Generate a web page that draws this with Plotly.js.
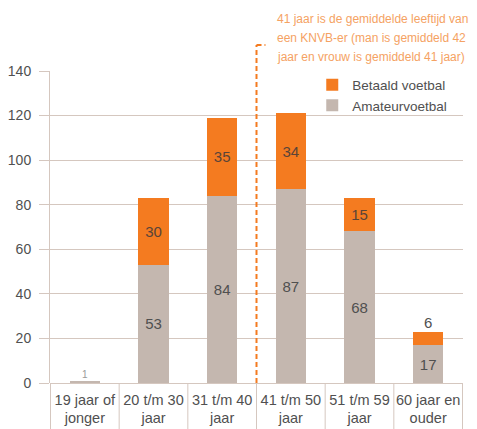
<!DOCTYPE html>
<html>
<head>
<meta charset="utf-8">
<script src="https://cdn.plot.ly/plotly-3.0.1.min.js"></script>
<style>html,body{margin:0;padding:0;background:#fff;}#chart{width:477px;height:429px;}</style>
</head>
<body>
<div id="chart"></div>
<script>
const categories = ["19 jaar of<br>jonger","20 t/m 30<br>jaar","31 t/m 40<br>jaar","41 t/m 50<br>jaar","51 t/m 59<br>jaar","60 jaar en<br>ouder"];
const amateur = [1, 53, 84, 87, 68, 17];
const betaald = [0, 30, 35, 34, 15, 6];
const amateurLabels = ["", "53", "84", "87", "68", "17"];
const betaaldLabels = ["", "30", "35", "34", "15", ""];
const topLabels = ["1", "", "", "", "", "6"];
const yTicks = [0, 20, 40, 60, 80, 100, 120, 140];
const meanBoundary = 2.5; // between 31-40 and 41-50
const noteLines = ["41 jaar is de gemiddelde leeftijd van", "een KNVB-er (man is gemiddeld 42", "jaar en vrouw is gemiddeld 41 jaar)"];

const FONT = "Liberation Sans, Arial, sans-serif";
const GRID = "#d5c7bf";
const TXT = "#505050";
const ORANGE = "#f47b20";
const GRAY = "#c4b7af";

const totals = amateur.map((v, i) => v + betaald[i]);

const traces = [
  {type: "bar", name: "Amateurvoetbal", x: categories, y: amateur, marker: {color: GRAY},
   width: 0.44, text: amateurLabels, textposition: "inside", insidetextanchor: "middle",
   textfont: {family: FONT, size: 15, color: TXT}, hoverinfo: "none"},
  {type: "bar", name: "Betaald voetbal", x: categories, y: betaald, marker: {color: ORANGE},
   width: 0.44, text: betaaldLabels, textposition: "inside", insidetextanchor: "middle",
   textfont: {family: FONT, size: 15, color: "#5a4438"}, hoverinfo: "none"},
  {type: "scatter", mode: "text", x: categories, y: totals, text: topLabels,
   textposition: "top center", showlegend: false, hoverinfo: "none",
   textfont: {family: FONT, size: topLabels.map(t => t === "1" ? 10 : 15),
              color: topLabels.map(t => t === "1" ? "#9a9a9a" : TXT)}}
];

const shapes = [];
for (let i = 0; i <= categories.length; i++) {
  shapes.push({type: "line", xref: "x", yref: "paper", x0: i - 0.5, x1: i - 0.5, y0: 0, y1: -0.16,
               line: {color: GRID, width: 1}});
}
shapes.push({type: "line", xref: "x", yref: "paper", x0: meanBoundary, x1: meanBoundary, y0: 0, y1: 1.083,
             line: {color: ORANGE, width: 2, dash: "5px,3px"}});
shapes.push({type: "line", xref: "x", yref: "paper", x0: meanBoundary, x1: meanBoundary + 0.13, y0: 1.083, y1: 1.083,
             line: {color: ORANGE, width: 2, dash: "5px,3px"}});

const noteY = [1.1667, 1.1042, 1.0433];
const annotations = noteLines.map((t, i) => ({
  xref: "paper", yref: "paper", x: 0.545, y: noteY[i], xanchor: "left", yanchor: "middle",
  text: t, showarrow: false, align: "left",
  font: {family: FONT, size: 12, color: "#f5a263"}
}));

const layout = {
  width: 477, height: 429,
  margin: {l: 50, r: 14, t: 71, b: 46},
  paper_bgcolor: "#fff", plot_bgcolor: "#fff",
  barmode: "stack",
  font: {family: FONT, size: 14, color: TXT},
  showlegend: true,
  legend: {x: 0.635, y: 1.005, xanchor: "left", yanchor: "top", bgcolor: "rgba(0,0,0,0)",
           font: {family: FONT, size: 13.5, color: TXT}, tracegroupgap: 0},
  xaxis: {type: "category", showgrid: false, ticks: "", showline: false, zeroline: false, tickangle: 0,
          ticklabelstandoff: 6,
          tickfont: {family: FONT, size: 14.5, color: TXT}, fixedrange: true},
  yaxis: {range: [0, 140], tickvals: yTicks, showgrid: true, gridcolor: GRID, gridwidth: 1,
          showline: true, linecolor: GRID, linewidth: 1, zeroline: true, zerolinecolor: GRID,
          ticks: "outside", ticklen: 10, tickcolor: GRID, ticklabelstandoff: 5,
          tickfont: {family: FONT, size: 14, color: TXT}, fixedrange: true},
  shapes: shapes,
  annotations: annotations
};

Plotly.newPlot("chart", traces, layout, {displayModeBar: false, staticPlot: true});
</script>
</body>
</html>
